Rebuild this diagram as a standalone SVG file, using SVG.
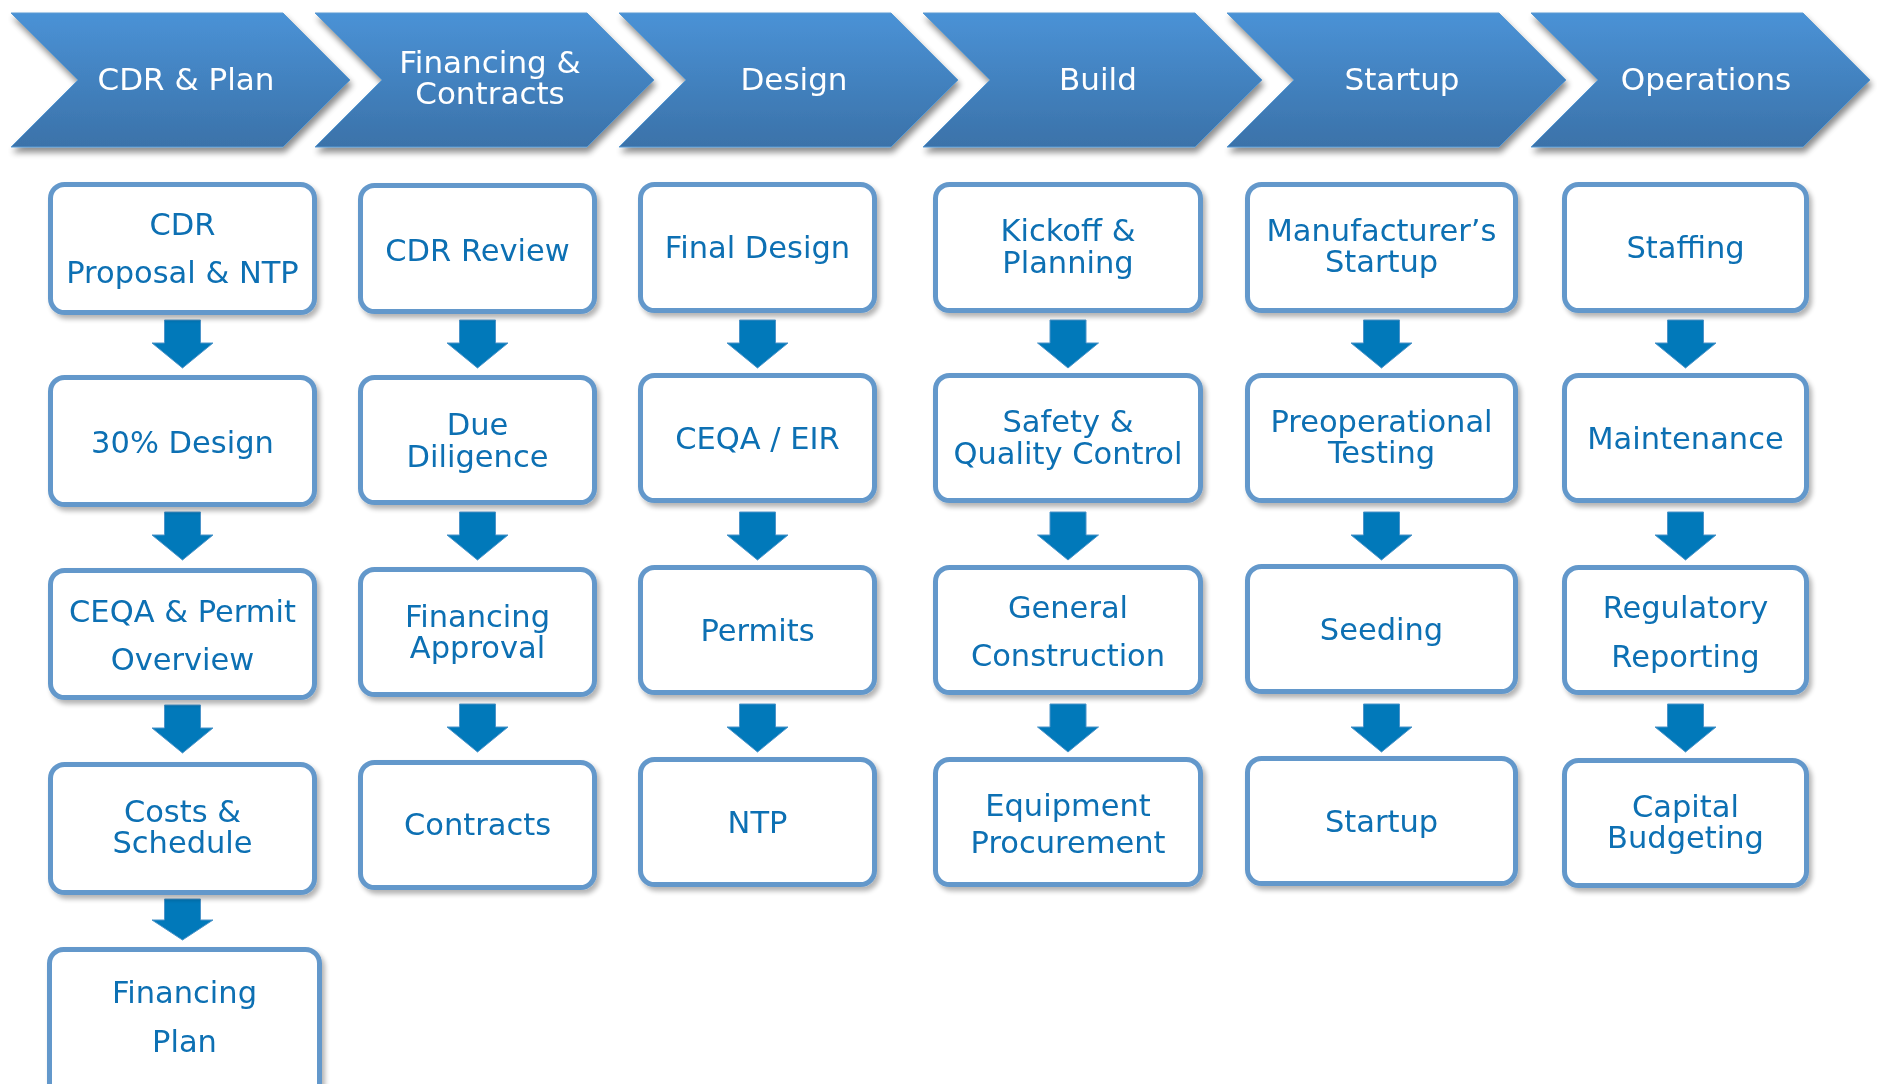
<svg xmlns="http://www.w3.org/2000/svg" xmlns:xlink="http://www.w3.org/1999/xlink" width="1877" height="1084" viewBox="0 0 1877 1084">
  <style>
    .phase { fill: #ffffff; font-family: "DejaVu Sans", "Liberation Sans", sans-serif; font-size: 31px; text-anchor: middle; }
    .step rect { fill: #ffffff; stroke: #6398CB; stroke-width: 5; }
    .step text { fill: #0B6FB3; font-family: "DejaVu Sans", "Liberation Sans", sans-serif; font-size: 30.5px; text-anchor: middle; }
    .arrow { fill: #0179BA; stroke: #4D94C9; stroke-width: 1; }
  </style>
  <defs>
    <linearGradient id="chevFill" x1="0" y1="0" x2="0" y2="1">
      <stop offset="0" stop-color="#4A92D6"/>
      <stop offset="1" stop-color="#3B72A9"/>
    </linearGradient>
    <filter id="chevShadow" x="-10%" y="-10%" width="125%" height="140%">
      <feGaussianBlur in="SourceAlpha" stdDeviation="3"/>
      <feOffset dx="2" dy="5" result="b"/>
      <feComponentTransfer><feFuncA type="linear" slope="0.45"/></feComponentTransfer>
      <feMerge><feMergeNode/><feMergeNode in="SourceGraphic"/></feMerge>
    </filter>
    <filter id="boxShadow" x="-10%" y="-10%" width="125%" height="130%">
      <feGaussianBlur in="SourceAlpha" stdDeviation="2.5"/>
      <feOffset dx="3" dy="4" result="b"/>
      <feComponentTransfer><feFuncA type="linear" slope="0.3"/></feComponentTransfer>
      <feMerge><feMergeNode/><feMergeNode in="SourceGraphic"/></feMerge>
    </filter>
    <path id="chev" d="M0,13 L272,13 L339,80 L272,147 L0,147 L67,80 Z" fill="url(#chevFill)" stroke="#5A9AD2" stroke-width="1"/>
    <path id="dn" d="M-18,0 h36 v23 h12.5 L0,48 L-30.5,23 h12.5 Z"/>
  </defs>

  <!-- phase banner -->
  <g id="phases" filter="url(#chevShadow)">
    <g id="phase-cdr-plan"><use xlink:href="#chev" x="11"/><text class="phase" x="186" y="90">CDR &amp; Plan</text></g>
    <g id="phase-financing"><use xlink:href="#chev" x="315"/><text class="phase" x="490" y="73">Financing &amp;</text><text class="phase" x="490" y="104">Contracts</text></g>
    <g id="phase-design"><use xlink:href="#chev" x="619"/><text class="phase" x="794" y="90">Design</text></g>
    <g id="phase-build"><use xlink:href="#chev" x="923"/><text class="phase" x="1098" y="90">Build</text></g>
    <g id="phase-startup"><use xlink:href="#chev" x="1227"/><text class="phase" x="1402" y="90">Startup</text></g>
    <g id="phase-operations"><use xlink:href="#chev" x="1531"/><text class="phase" x="1706" y="90">Operations</text></g>
  </g>

  <!-- down arrows between steps -->
  <g id="connectors" class="arrow">
    <use xlink:href="#dn" x="182.5" y="320"/>
    <use xlink:href="#dn" x="182.5" y="512"/>
    <use xlink:href="#dn" x="182.5" y="705"/>
    <path d="M164.5,899 h36 v21 h12.5 L182.5,940 L152,920 h12.5 Z"/>

    <use xlink:href="#dn" x="477.5" y="320"/>
    <use xlink:href="#dn" x="477.5" y="512"/>
    <use xlink:href="#dn" x="477.5" y="704"/>

    <use xlink:href="#dn" x="757.5" y="320"/>
    <use xlink:href="#dn" x="757.5" y="512"/>
    <use xlink:href="#dn" x="757.5" y="704"/>

    <use xlink:href="#dn" x="1068" y="320"/>
    <use xlink:href="#dn" x="1068" y="512"/>
    <use xlink:href="#dn" x="1068" y="704"/>

    <use xlink:href="#dn" x="1381.5" y="320"/>
    <use xlink:href="#dn" x="1381.5" y="512"/>
    <use xlink:href="#dn" x="1381.5" y="704"/>

    <use xlink:href="#dn" x="1685.5" y="320"/>
    <use xlink:href="#dn" x="1685.5" y="512"/>
    <use xlink:href="#dn" x="1685.5" y="704"/>
  </g>

  <!-- column 1: CDR & Plan -->
  <g id="cdr-proposal" class="step" filter="url(#boxShadow)"><rect x="50.5" y="184.5" width="264" height="128" rx="14"/><text x="182.5" y="235">CDR</text><text x="182.5" y="283">Proposal &amp; NTP</text></g>
  <g id="design-30" class="step" filter="url(#boxShadow)"><rect x="50.5" y="377.5" width="264" height="127" rx="14"/><text x="182.5" y="453">30% Design</text></g>
  <g id="ceqa-permit" class="step" filter="url(#boxShadow)"><rect x="50.5" y="570.5" width="264" height="127" rx="14"/><text x="182.5" y="622">CEQA &amp; Permit</text><text x="182.5" y="670">Overview</text></g>
  <g id="costs-schedule" class="step" filter="url(#boxShadow)"><rect x="50.5" y="764.5" width="264" height="128" rx="14"/><text x="182.5" y="822">Costs &amp;</text><text x="182.5" y="853">Schedule</text></g>
  <g id="financing-plan" class="step" filter="url(#boxShadow)"><rect x="49.5" y="949.5" width="270" height="170" rx="14"/><text x="184.5" y="1003">Financing</text><text x="184.5" y="1052">Plan</text></g>

  <!-- column 2: Financing & Contracts -->
  <g id="cdr-review" class="step" filter="url(#boxShadow)"><rect x="360.5" y="185.5" width="234" height="126" rx="14"/><text x="477.5" y="261">CDR Review</text></g>
  <g id="due-diligence" class="step" filter="url(#boxShadow)"><rect x="360.5" y="377.5" width="234" height="125" rx="14"/><text x="477.5" y="435">Due</text><text x="477.5" y="467">Diligence</text></g>
  <g id="financing-approval" class="step" filter="url(#boxShadow)"><rect x="360.5" y="569.5" width="234" height="125" rx="14"/><text x="477.5" y="627">Financing</text><text x="477.5" y="658">Approval</text></g>
  <g id="contracts" class="step" filter="url(#boxShadow)"><rect x="360.5" y="762.5" width="234" height="125" rx="14"/><text x="477.5" y="835">Contracts</text></g>

  <!-- column 3: Design -->
  <g id="final-design" class="step" filter="url(#boxShadow)"><rect x="640.5" y="184.5" width="234" height="126" rx="14"/><text x="757.5" y="258">Final Design</text></g>
  <g id="ceqa-eir" class="step" filter="url(#boxShadow)"><rect x="640.5" y="375.5" width="234" height="125" rx="14"/><text x="757.5" y="449">CEQA / EIR</text></g>
  <g id="permits" class="step" filter="url(#boxShadow)"><rect x="640.5" y="567.5" width="234" height="125" rx="14"/><text x="757.5" y="641">Permits</text></g>
  <g id="ntp" class="step" filter="url(#boxShadow)"><rect x="640.5" y="759.5" width="234" height="125" rx="14"/><text x="757.5" y="833">NTP</text></g>

  <!-- column 4: Build -->
  <g id="kickoff-planning" class="step" filter="url(#boxShadow)"><rect x="935.5" y="184.5" width="265" height="126" rx="14"/><text x="1068" y="241">Kickoff &amp;</text><text x="1068" y="273">Planning</text></g>
  <g id="safety-quality" class="step" filter="url(#boxShadow)"><rect x="935.5" y="375.5" width="265" height="125" rx="14"/><text x="1068" y="432">Safety &amp;</text><text x="1068" y="464">Quality Control</text></g>
  <g id="general-construction" class="step" filter="url(#boxShadow)"><rect x="935.5" y="567.5" width="265" height="125" rx="14"/><text x="1068" y="618">General</text><text x="1068" y="666">Construction</text></g>
  <g id="equipment-procurement" class="step" filter="url(#boxShadow)"><rect x="935.5" y="759.5" width="265" height="125" rx="14"/><text x="1068" y="816">Equipment</text><text x="1068" y="853">Procurement</text></g>

  <!-- column 5: Startup -->
  <g id="manufacturers-startup" class="step" filter="url(#boxShadow)"><rect x="1247.5" y="184.5" width="268" height="126" rx="14"/><text x="1381.5" y="241">Manufacturer’s</text><text x="1381.5" y="272">Startup</text></g>
  <g id="preoperational-testing" class="step" filter="url(#boxShadow)"><rect x="1247.5" y="375.5" width="268" height="125" rx="14"/><text x="1381.5" y="432">Preoperational</text><text x="1381.5" y="463">Testing</text></g>
  <g id="seeding" class="step" filter="url(#boxShadow)"><rect x="1247.5" y="566.5" width="268" height="125" rx="14"/><text x="1381.5" y="640">Seeding</text></g>
  <g id="startup" class="step" filter="url(#boxShadow)"><rect x="1247.5" y="758.5" width="268" height="125" rx="14"/><text x="1381.5" y="832">Startup</text></g>

  <!-- column 6: Operations -->
  <g id="staffing" class="step" filter="url(#boxShadow)"><rect x="1564.5" y="184.5" width="242" height="126" rx="14"/><text x="1685.5" y="258">Staffing</text></g>
  <g id="maintenance" class="step" filter="url(#boxShadow)"><rect x="1564.5" y="375.5" width="242" height="125" rx="14"/><text x="1685.5" y="449">Maintenance</text></g>
  <g id="regulatory-reporting" class="step" filter="url(#boxShadow)"><rect x="1564.5" y="567.5" width="242" height="125" rx="14"/><text x="1685.5" y="618">Regulatory</text><text x="1685.5" y="667">Reporting</text></g>
  <g id="capital-budgeting" class="step" filter="url(#boxShadow)"><rect x="1564.5" y="760.5" width="242" height="125" rx="14"/><text x="1685.5" y="817">Capital</text><text x="1685.5" y="848">Budgeting</text></g>
</svg>
